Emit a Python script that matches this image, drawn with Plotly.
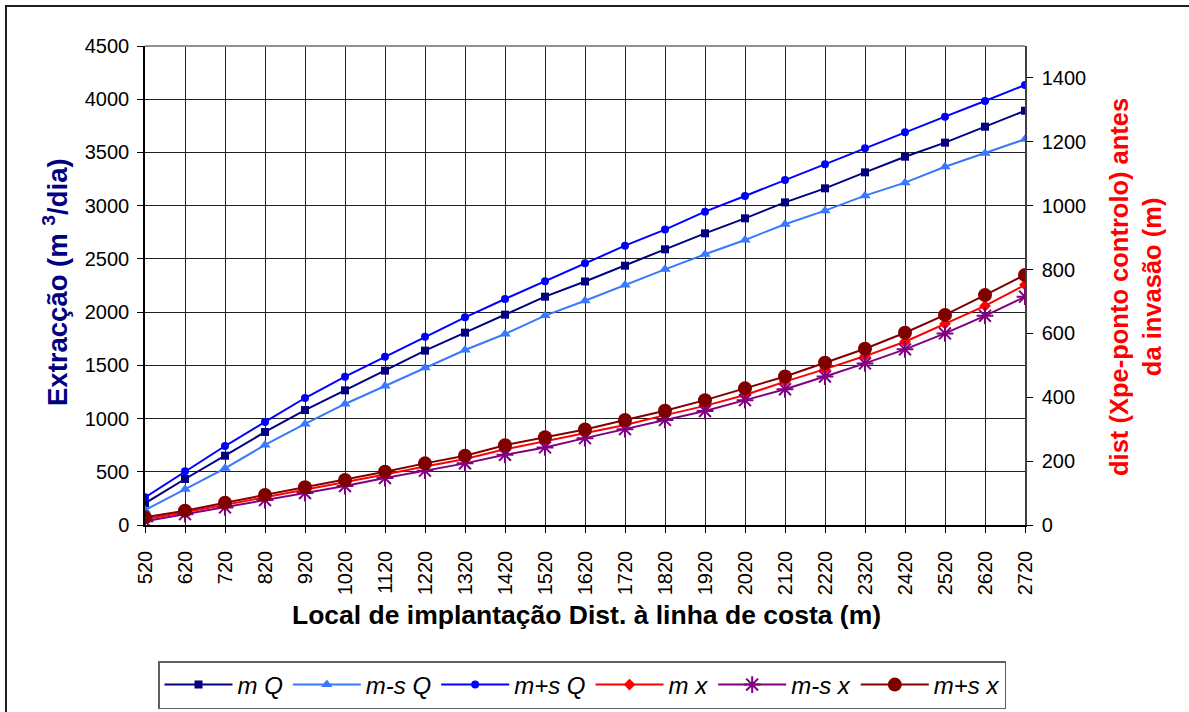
import plotly.graph_objects as go

dist = [520, 620, 720, 820, 920, 1020, 1120, 1220, 1320, 1420, 1520, 1620,
        1720, 1820, 1920, 2020, 2120, 2220, 2320, 2420, 2520, 2620, 2720]

m_Q = [204, 432, 651, 874, 1080, 1265, 1450, 1638, 1807, 1976, 2145, 2288,
       2436, 2590, 2740, 2881, 3031, 3163, 3313, 3460, 3592, 3742, 3892]
ms_Q = [140, 335, 532, 752, 949, 1137, 1306, 1478, 1644, 1794, 1967, 2107,
        2255, 2402, 2543, 2678, 2825, 2953, 3094, 3216, 3366, 3492, 3624]
mp_Q = [260, 504, 742, 968, 1193, 1393, 1581, 1769, 1951, 2123, 2290, 2458,
        2624, 2775, 2944, 3091, 3241, 3389, 3539, 3689, 3836, 3983, 4134]

m_x = [18, 40, 63, 87, 110, 133, 158, 183, 207, 237, 262, 287,
       313, 344, 373, 407, 449, 488, 529, 574, 630, 686, 752]
ms_x = [12, 34, 55, 78, 100, 122, 147, 170, 193, 220, 243, 272,
        300, 329, 357, 391, 425, 465, 506, 550, 600, 655, 715]
mp_x = [24, 45, 70, 94, 118, 141, 167, 193, 217, 250, 275, 299,
        329, 358, 391, 428, 465, 508, 552, 602, 658, 720, 783]

x_title = "Local de implantação Dist. à linha de costa (m)"
y_title = "Extracção (m <sup>3</sup>/dia)"
y2_title = "dist (Xpe-ponto controlo) antes<br>da invasão (m)"

FONT = "Liberation Sans, Arial, sans-serif"

fig = go.Figure()

def add(name, y, color, symbol, size, axis="y", lw=2, mline=None):
    marker = dict(symbol=symbol, size=size, color=color)
    if mline:
        marker["line"] = dict(color=color, width=mline)
    fig.add_trace(go.Scatter(
        x=dist, y=y, name=name, yaxis=axis, mode="lines+markers",
        line=dict(color=color, width=lw), marker=marker))

add("<i>m Q</i>", m_Q, "#000080", "square", 8)
add("<i>m-s Q</i>", ms_Q, "#3A78FF", "triangle-up", 10)
add("<i>m+s Q</i>", mp_Q, "#0000FF", "circle", 8)
add("<i>m x</i>", m_x, "#FF0000", "diamond", 9, axis="y2")
add("<i>m-s x</i>", ms_x, "#800080", "asterisk-open", 14, axis="y2", mline=2)
add("<i>m+s x</i>", mp_x, "#800000", "circle", 14, axis="y2")

L, R, T, B = 145, 1025, 46, 525
W, H = 1189, 712
pw, ph = R - L, B - T

def px(x):
    return (x - L) / pw

def py(y):
    return (B - y) / ph

fig.update_layout(
    width=W, height=H,
    margin=dict(l=L, r=W - R, t=T, b=H - B, pad=0, autoexpand=False),
    paper_bgcolor="white", plot_bgcolor="white",
    font=dict(family=FONT, size=20, color="black"),
    showlegend=True,
    legend=dict(
        orientation="h", x=px(158), y=py(661), xanchor="left", yanchor="top",
        bordercolor="#606060", borderwidth=1.5, bgcolor="white",
        font=dict(size=24, family=FONT), itemwidth=68,
        tracegroupgap=0,
    ),
    xaxis=dict(
        range=[520, 2720], tick0=520, dtick=100, tickangle=-90,
        showgrid=True, gridcolor="#202020", gridwidth=1,
        showline=True, linecolor="black", linewidth=1.5,
        ticks="outside", ticklen=6, tickcolor="black", ticklabelstandoff=10,
        zeroline=False, automargin=False, tickfont=dict(size=20),
    ),
    yaxis=dict(
        range=[0, 4500], dtick=500, showgrid=True, gridcolor="#202020", gridwidth=1,
        showline=True, linecolor="black", linewidth=1.5,
        ticks="outside", ticklen=6, tickcolor="black", zeroline=False,
        ticklabelstandoff=4,
        automargin=False, tickfont=dict(size=20),
    ),
    yaxis2=dict(
        overlaying="y", side="right", range=[0, 1500],
        tickvals=[0, 200, 400, 600, 800, 1000, 1200, 1400],
        showgrid=False, showline=True, linecolor="#404040", linewidth=1.5,
        ticks="outside", ticklen=6, tickcolor="black", zeroline=False,
        ticklabelstandoff=5,
        automargin=False, tickfont=dict(size=20),
    ),
    annotations=[
        dict(text="<b>" + x_title + "</b>", xref="paper", yref="paper",
             x=px(586), y=py(615), xanchor="center", yanchor="middle",
             showarrow=False, font=dict(size=26.5, family=FONT, color="black")),
        dict(text="<b>" + y_title + "</b>", xref="paper", yref="paper",
             x=px(55), y=py(282), xanchor="center", yanchor="middle", textangle=-90,
             showarrow=False, font=dict(size=27.5, family=FONT, color="#000080")),
        dict(text="<b>" + y2_title + "</b>", xref="paper", yref="paper",
             x=px(1135), y=py(287), xanchor="center", yanchor="middle", textangle=-90,
             showarrow=False, font=dict(size=25.5, family=FONT, color="#FF0000")),
    ],
    shapes=[
        dict(type="rect", xref="paper", yref="paper",
             x0=px(6), x1=px(1200), y0=py(6), y1=py(720),
             line=dict(color="#202020", width=2), layer="below"),
        dict(type="line", xref="paper", yref="paper",
             x0=0, x1=1, y0=1, y1=1, line=dict(color="#909090", width=2)),
    ],
)

fig.write_html("out.html")
